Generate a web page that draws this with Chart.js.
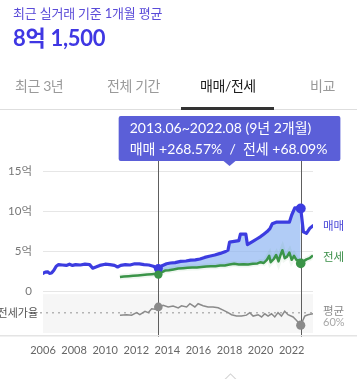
<!DOCTYPE html>
<html lang="ko">
<head>
<meta charset="utf-8">
<script src="https://cdn.jsdelivr.net/npm/chart.js@4.4.1/dist/chart.umd.min.js"></script>
<style>
html,body{margin:0;padding:0;width:357px;height:379px;overflow:hidden;background:#fff;
  font-family:Lato,'Noto Sans CJK KR',sans-serif;}
#wrap{position:relative;width:357px;height:379px;}
#c{position:absolute;left:0;top:0;width:357px;height:379px;}
.t{position:absolute;white-space:nowrap;line-height:1;}
.tab{font-size:14px;color:#9a9a9a;top:79px;letter-spacing:-0.4px;}
#tabline{position:absolute;left:0;top:109px;width:357px;height:1px;background:#dedede;}
#tabact{position:absolute;left:181px;top:107px;width:93px;height:3px;background:#333;}
#chev{position:absolute;left:226px;top:375px;width:8px;height:8px;border-left:1px solid #d0d0d0;border-top:1px solid #d0d0d0;transform:rotate(45deg);}
</style>
</head>
<body>
<div id="wrap">
<canvas id="c" width="357" height="379"></canvas>
<div class="t" style="left:13px;top:7px;font-size:13px;color:#5a4bd8;letter-spacing:-0.2px;">최근 실거래 기준 1개월 평균</div>
<div class="t" style="left:13px;top:27px;font-size:22px;font-weight:bold;color:#3f37e3;letter-spacing:-0.3px;">8억 1,500</div>
<div class="t tab" style="left:15px;">최근 3년</div>
<div class="t tab" style="left:107px;">전체 기간</div>
<div class="t tab" style="left:200px;color:#1e1e1e;">매매/전세</div>
<div class="t tab" style="left:310px;">비교</div>
<div id="tabline"></div>
<div id="tabact"></div>
<div id="chev"></div>
</div>
<script>
// ---------------- data ----------------
const saleYears = [2006.00,2006.15,2006.30,2006.42,2006.55,2006.70,2006.85,2007.00,2007.25,2007.50,2007.70,2007.90,
  2008.10,2008.40,2008.70,2009.00,2009.20,2009.40,2009.65,2010.00,2010.30,2010.60,2010.80,2011.00,2011.30,2011.60,
  2011.90,2012.20,2012.50,2012.80,2013.10,2013.42,2013.70,2013.95,2014.20,2014.50,2014.85,2015.20,2015.50,2015.80,
  2016.10,2016.40,2016.70,2017.05,2017.40,2017.70,2017.90,2018.00,2018.30,2018.60,2018.70,2019.05,2019.15,2019.50,
  2019.75,2020.00,2020.20,2020.40,2020.60,2020.75,2021.00,2021.50,2021.85,2022.00,2022.20,2022.58,2022.75,2022.95,
  2023.15,2023.37];
const saleValues = [2.2,2.35,2.4,2.2,2.25,2.6,3.1,3.3,3.25,3.2,3.35,3.2,
  3.3,3.25,3.35,3.3,2.85,3.0,3.2,3.35,3.3,3.2,3.0,3.2,3.3,3.25,
  3.4,3.4,3.3,3.25,3.1,2.8,3.2,3.4,3.5,3.55,3.7,3.75,3.85,3.9,
  4.0,4.2,4.35,4.5,4.7,4.9,5.1,6.1,6.2,6.3,7.1,7.1,5.8,6.2,
  6.5,6.8,7.1,7.4,7.8,8.4,8.6,8.6,8.6,9.5,10.4,10.32,7.4,7.2,
  7.8,8.15];

const jeonseYears = [2010.95,2011.20,2011.50,2011.80,2012.10,2012.40,2012.70,2013.00,2013.25,2013.42,2013.60,2013.85,
  2014.10,2014.40,2014.70,2015.00,2015.30,2015.60,2015.90,2016.20,2016.50,2016.80,2017.10,2017.40,2017.70,2018.00,
  2018.30,2018.60,2018.90,2019.20,2019.50,2019.80,2020.00,2020.20,2020.40,2020.55,2020.65,2020.85,2021.00,2021.15,
  2021.30,2021.40,2021.55,2021.70,2021.85,2022.00,2022.15,2022.30,2022.45,2022.58,2022.75,2022.95,2023.15,2023.37];
const jeonseValues = [1.75,1.8,1.85,1.9,1.95,2.0,2.05,2.1,2.15,2.05,2.3,2.55,
  2.6,2.7,2.8,2.85,2.9,2.95,2.95,3.0,3.05,3.1,3.1,3.2,3.2,3.3,
  3.4,3.3,3.35,3.3,3.4,3.45,3.6,3.5,3.9,4.4,3.6,4.0,4.5,3.7,
  4.6,5.1,4.1,4.3,4.8,3.9,4.4,3.9,3.8,3.45,3.7,3.95,4.1,4.45];

const ratioYears = [2010.95,2011.38,2011.70,2012.02,2012.23,2012.56,2012.77,2012.99,2013.20,2013.42,2013.73,2014.05,
  2014.37,2014.70,2014.91,2015.24,2015.45,2015.77,2015.98,2016.30,2016.62,2016.94,2017.27,2017.59,2017.91,2018.13,
  2018.45,2018.77,2019.09,2019.30,2019.52,2019.84,2020.06,2020.27,2020.48,2020.70,2020.91,2021.12,2021.34,2021.55,
  2021.76,2022.09,2022.30,2022.58,2022.84,2023.05,2023.37];
const ratioValues = [55,56,55,60.5,56,63.5,60.5,69,68,73,76.5,73,
  75,71,75.5,73,80,73,80,75.5,73,73,71,66,60.5,56,
  53,53,55,60.5,53,56,51,58,53,58,51,60.5,53,63.5,
  56,51,44,33,53,56,58];
const ratioAverage = 60;

const yTickValues = [0, 5, 10, 15];
const xTickYears = [2006, 2008, 2010, 2012, 2014, 2016, 2018, 2020, 2022];

const selStartYear = 2013.42, selEndYear = 2022.58;
const selStartLabel = '2013.06', selEndLabel = '2022.08', selDurationLabel = '9년 2개월';
const saleChange = 268.57, jeonseChange = 68.09;

// ---------------- helpers ----------------
const pts = (xs, ys) => xs.map((x, i) => ({x: x, y: ys[i]}));
const valAt = (xs, ys, yr) => ys[xs.indexOf(yr)];
const saleData = pts(saleYears, saleValues);
const jeonseData = pts(jeonseYears, jeonseValues);
const ratioData = pts(ratioYears, ratioValues);
const selFillData = saleData.filter(p => p.x >= selStartYear && p.x <= selEndYear);

const FONT = "Lato, 'Noto Sans CJK KR', sans-serif";
const KFONT = "'Noto Sans CJK KR', sans-serif";
const BLUE = '#3c3ce0', GREEN = '#3a9448', GRAY = '#8a8a8a';

const overlay = {
  id: 'overlay',
  beforeDatasetsDraw(chart) {
    const {ctx, chartArea: a, scales: {x, y2}} = chart;
    ctx.save();
    const pt = y2.getPixelForValue(101), pb = y2.getPixelForValue(16);
    ctx.fillStyle = '#f6f6f6';
    ctx.fillRect(a.left, pt, a.right - a.left, pb - pt);
    const ay = y2.getPixelForValue(ratioAverage);
    ctx.strokeStyle = '#b4b4b4'; ctx.lineWidth = 1.5; ctx.setLineDash([2, 4]);
    ctx.beginPath(); ctx.moveTo(40, ay); ctx.lineTo(a.right, ay); ctx.stroke();
    ctx.setLineDash([]);
    ctx.strokeStyle = '#5e5e5e'; ctx.lineWidth = 1;
    [selStartYear, selEndYear].forEach(v => {
      const px = Math.round(x.getPixelForValue(v)) + 0.5;
      ctx.beginPath(); ctx.moveTo(px, 161); ctx.lineTo(px, a.bottom + 4); ctx.stroke();
    });
    ctx.fillStyle = '#e4e4e4';
    ctx.fillRect(0, a.bottom + 2, 357, 1.5);
    ctx.restore();
  },
  afterDatasetsDraw(chart) {
    const {ctx, scales: {x, y, y2}} = chart;
    ctx.save();
    const dot = (xv, yv, sc, r, c) => {
      ctx.beginPath(); ctx.arc(x.getPixelForValue(xv), sc.getPixelForValue(yv), r, 0, Math.PI * 2);
      ctx.fillStyle = c; ctx.fill();
    };
    dot(selStartYear, valAt(saleYears, saleValues, selStartYear), y, 4.5, BLUE);
    dot(selEndYear, valAt(saleYears, saleValues, selEndYear), y, 5, BLUE);
    dot(selStartYear, valAt(jeonseYears, jeonseValues, selStartYear), y, 4.2, GREEN);
    dot(selEndYear, valAt(jeonseYears, jeonseValues, selEndYear), y, 4.8, GREEN);
    dot(selStartYear, valAt(ratioYears, ratioValues, selStartYear), y2, 4.3, GRAY);
    dot(selEndYear, valAt(ratioYears, ratioValues, selEndYear), y2, 4.6, GRAY);

    ctx.textBaseline = 'middle'; ctx.textAlign = 'left';
    ctx.font = '11.5px ' + KFONT;
    ctx.fillStyle = '#4a48d8';
    ctx.fillText('매매', 323, y.getPixelForValue(saleValues[saleValues.length - 1]));
    ctx.fillStyle = '#3b8f49';
    ctx.fillText('전세', 323, y.getPixelForValue(jeonseValues[jeonseValues.length - 1]) + 1.5);
    const ay = y2.getPixelForValue(ratioAverage);
    ctx.fillStyle = '#8a8a8a';
    ctx.fillText('평균', 323, ay - 2.5);
    ctx.font = '11px ' + FONT; ctx.fillStyle = '#a8a8a8';
    ctx.fillText(ratioAverage + '%', 323, ay + 9.5);
    ctx.textAlign = 'right'; ctx.font = '11px ' + KFONT; ctx.fillStyle = '#555';
    ctx.fillText('전세가율', 38, ay);

    const line1 = selStartLabel + '~' + selEndLabel + ' (' + selDurationLabel + ')';
    const line2 = '매매 +' + saleChange.toFixed(2) + '%  /  전세 +' + jeonseChange.toFixed(2) + '%';
    ctx.font = '14px ' + FONT;
    const w = Math.max(ctx.measureText(line1).width, ctx.measureText(line2).width) + 24;
    const cx = (x.getPixelForValue(selStartYear) + x.getPixelForValue(selEndYear)) / 2;
    const bx = cx - w / 2, by = 116, bh = 45;
    ctx.fillStyle = '#5b5fd8';
    ctx.beginPath();
    if (ctx.roundRect) ctx.roundRect(bx, by, w, bh, 2); else ctx.rect(bx, by, w, bh);
    ctx.fill();
    ctx.beginPath(); ctx.moveTo(cx - 6, by + bh); ctx.lineTo(cx, by + bh + 5); ctx.lineTo(cx + 6, by + bh); ctx.closePath(); ctx.fill();
    ctx.fillStyle = '#fff'; ctx.textAlign = 'left'; ctx.textBaseline = 'middle';
    ctx.fillText(line1, bx + 11, by + 12.5);
    ctx.fillText(line2, bx + 11, by + 33.5);
    ctx.restore();
  }
};

new Chart(document.getElementById('c').getContext('2d'), {
  type: 'line',
  data: {
    datasets: [
      {label: '구간', data: selFillData, yAxisID: 'y', borderWidth: 0, pointRadius: 0,
       backgroundColor: 'rgba(140,180,242,0.68)', fill: 3, order: 20},
      {label: '매매', data: saleData, yAxisID: 'y', borderColor: BLUE, borderWidth: 3.2, pointRadius: 0,
       fill: false, borderJoinStyle: 'round', borderCapStyle: 'round', order: 1},
      {label: '전세 범위', data: jeonseData, yAxisID: 'y', borderColor: 'rgba(58,148,72,0.08)', borderWidth: 6,
       pointRadius: 0, fill: false, order: 15},
      {label: '전세', data: jeonseData, yAxisID: 'y', borderColor: GREEN, borderWidth: 2.5, pointRadius: 0,
       fill: false, borderJoinStyle: 'round', order: 2},
      {label: '전세가율', data: ratioData, yAxisID: 'y2', borderColor: GRAY, borderWidth: 1.5, pointRadius: 0,
       fill: false, order: 3}
    ]
  },
  options: {
    responsive: false, animation: false, devicePixelRatio: 1, events: [],
    layout: {padding: {top: 163, right: 44, bottom: 0, left: 0}},
    plugins: {legend: {display: false}, tooltip: {enabled: false}},
    scales: {
      x: {
        type: 'linear', min: 2006, max: 2023.37,
        afterBuildTicks: s => { s.ticks = xTickYears.map(v => ({value: v})); },
        afterFit: s => { s.height = 46; },
        grid: {display: false, drawTicks: false}, border: {display: false},
        ticks: {callback: v => String(v), font: {size: 11, family: FONT}, color: '#666', padding: 11,
                maxRotation: 0, autoSkip: false}
      },
      y: {
        type: 'linear', position: 'left', min: -5.25, max: 16,
        afterBuildTicks: s => { s.ticks = yTickValues.map(v => ({value: v})); },
        afterFit: s => { s.width = 43; },
        grid: {color: '#e6e6e6', lineWidth: 1, drawTicks: false}, border: {display: false},
        ticks: {callback: v => v === 0 ? '0' : v + '억', font: {size: 11.5, family: FONT}, color: '#777', padding: 11}
      },
      y2: {type: 'linear', position: 'right', display: false, min: 16, max: 387.6}
    }
  },
  plugins: [overlay]
});
</script>
</body>
</html>
